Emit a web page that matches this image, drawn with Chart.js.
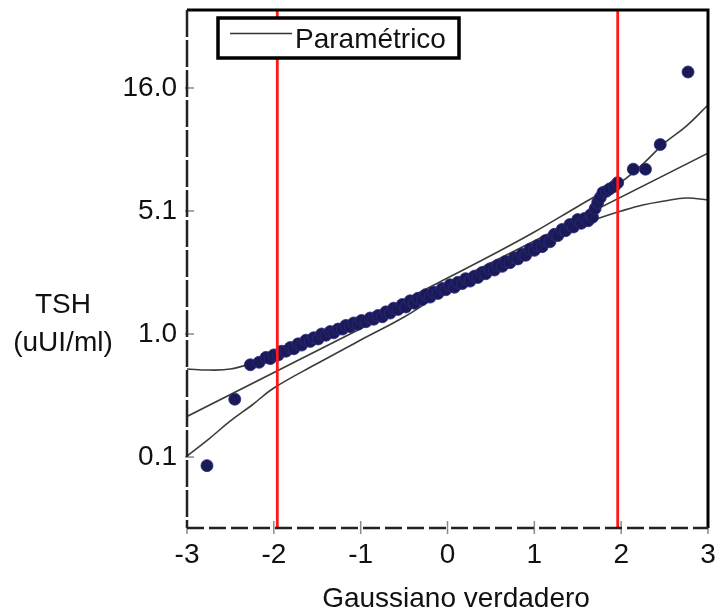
<!DOCTYPE html>
<html>
<head>
<meta charset="utf-8">
<title>TSH - gráfico Q-Q</title>
<script src="https://cdn.jsdelivr.net/npm/chart.js@4.4.1/dist/chart.umd.min.js"></script>
<style>
    html, body { margin: 0; padding: 0; background: #fff; }
</style>
</head>
<body>
<canvas id="qqChart" width="715" height="614"></canvas>
<script>
// Observed TSH quantiles against the theoretical normal quantiles
const zScores = [-2.77, -2.45, -2.27, -2.17, -2.09, -2.04, -2.00, -1.95, -1.91, -1.86,
                 -1.81, -1.77, -1.72, -1.68, -1.63, -1.58, -1.54, -1.49, -1.45, -1.40,
                 -1.35, -1.31, -1.26, -1.21, -1.17, -1.12, -1.08, -1.03, -0.99, -0.94,
                 -0.89, -0.85, -0.80, -0.75, -0.71, -0.66, -0.62, -0.57, -0.52, -0.48,
                 -0.43, -0.38, -0.34, -0.29, -0.25, -0.20, -0.16, -0.11, -0.06, -0.02,
                 0.03, 0.08, 0.12, 0.17, 0.21, 0.26, 0.31, 0.35, 0.40, 0.44,
                 0.49, 0.54, 0.58, 0.63, 0.67, 0.72, 0.77, 0.81, 0.86, 0.90,
                 0.95, 1.00, 1.04, 1.09, 1.13, 1.18, 1.23, 1.27, 1.32, 1.36,
                 1.41, 1.45, 1.50, 1.54, 1.58, 1.62, 1.65, 1.67, 1.70, 1.73,
                 1.76, 1.79, 1.83, 1.87, 1.92, 1.96, 2.14, 2.28, 2.45, 2.77];
const tshPos = [-0.07, 0.47, 0.75, 0.77, 0.81, 0.80, 0.83, 0.83, 0.86, 0.86,
                0.89, 0.88, 0.92, 0.91, 0.95, 0.94, 0.97, 0.96, 1.00, 0.99,
                1.02, 1.01, 1.04, 1.04, 1.07, 1.06, 1.09, 1.08, 1.11, 1.10,
                1.13, 1.12, 1.15, 1.14, 1.18, 1.17, 1.21, 1.20, 1.24, 1.22,
                1.27, 1.25, 1.29, 1.28, 1.32, 1.30, 1.34, 1.33, 1.37, 1.36,
                1.40, 1.38, 1.42, 1.41, 1.45, 1.43, 1.47, 1.46, 1.50, 1.49,
                1.53, 1.52, 1.56, 1.55, 1.59, 1.58, 1.62, 1.61, 1.65, 1.64,
                1.69, 1.68, 1.72, 1.71, 1.76, 1.75, 1.81, 1.80, 1.85, 1.84,
                1.89, 1.87, 1.93, 1.90, 1.94, 1.92, 1.97, 1.95, 2.02, 2.07,
                2.11, 2.15, 2.16, 2.18, 2.20, 2.23, 2.34, 2.34, 2.54, 3.13];

// TSH axis: evenly spaced positions carrying the uUI/ml labels
const yTickPos = [0, 1, 2, 3];
const yTickLabels = ['0.1', '1.0', '5.1', '16.0'];
const xTicks = [-3, -2, -1, 0, 1, 2, 3];

// Parametric fit and its confidence band
const fitZ = [-3, 3];
const fitY = [0.33, 2.47];
const bandZ = [-3, -2.75, -2.5, -2.25, -2, -1.5, -1, -0.5, 0, 0.5, 1, 1.5, 1.75, 2, 2.25, 2.5, 2.75, 3];
const bandUpper = [0.715, 0.707, 0.715, 0.764, 0.829, 0.951, 1.106, 1.276, 1.455, 1.638, 1.829, 2.037, 2.138, 2.236, 2.382, 2.553, 2.69, 2.862];
const bandLower = [0.008, 0.146, 0.293, 0.423, 0.561, 0.76, 0.951, 1.138, 1.358, 1.537, 1.699, 1.878, 1.943, 2.0, 2.049, 2.081, 2.106, 2.089];

// Reference limits (+/- 1.96)
const cutoffs = [-1.96, 1.96];

const Y_MIN = -0.577;
const Y_MAX = 3.634;
const FONT = '"Liberation Sans", Arial, Helvetica, sans-serif';

function toPoints(xs, ys) {
    return xs.map((x, i) => ({ x: x, y: ys[i] }));
}

function bandLine(data) {
    return {
        data: data,
        showLine: true,
        borderColor: '#3c3c3c',
        borderWidth: 1.6,
        pointRadius: 0,
        tension: 0.4,
        order: 2
    };
}

const datasets = [];

// Red cut-off lines, drawn on top of everything else
cutoffs.forEach(c => {
    datasets.push({
        data: [{ x: c, y: Y_MIN }, { x: c, y: Y_MAX }],
        showLine: true,
        borderColor: '#ff1a1a',
        borderWidth: 2.8,
        pointRadius: 0,
        order: 0
    });
});

datasets.push({
    data: toPoints(zScores, tshPos),
    pointRadius: 6,
    pointBackgroundColor: '#1a1a58',
    pointBorderColor: '#2a2a78',
    pointBorderWidth: 0.8,
    order: 1
});

datasets.push(bandLine(toPoints(fitZ, fitY)));
datasets.push(bandLine(toPoints(bandZ, bandUpper)));
datasets.push(bandLine(toPoints(bandZ, bandLower)));

/**
 * Frame, tick marks, axis titles and legend box
 */
const decorations = {
    id: 'decorations',
    afterDraw(chart) {
        const ctx = chart.ctx;
        const area = chart.chartArea;
        const xs = chart.scales.x;
        const ys = chart.scales.y;

        ctx.save();

        // tick marks crossing the axes
        ctx.strokeStyle = '#8a8a8a';
        ctx.lineWidth = 1.5;
        xs.ticks.forEach(t => {
            const px = xs.getPixelForValue(t.value);
            ctx.beginPath();
            ctx.moveTo(px, area.bottom - 7);
            ctx.lineTo(px, area.bottom + 6);
            ctx.stroke();
        });
        ys.ticks.forEach(t => {
            const py = ys.getPixelForValue(t.value);
            ctx.beginPath();
            ctx.moveTo(area.left - 2, py);
            ctx.lineTo(area.left + 7, py);
            ctx.stroke();
        });

        // solid top and right borders
        ctx.strokeStyle = '#000';
        ctx.lineWidth = 3;
        ctx.beginPath();
        ctx.moveTo(area.left, area.top);
        ctx.lineTo(area.right, area.top);
        ctx.lineTo(area.right, area.bottom);
        ctx.stroke();

        // dashed left and bottom axes
        ctx.strokeStyle = '#222';
        ctx.lineWidth = 2.5;
        ctx.setLineDash([27, 3]);
        ctx.beginPath();
        ctx.moveTo(area.left, area.top);
        ctx.lineTo(area.left, area.bottom);
        ctx.stroke();
        ctx.setLineDash([17, 5]);
        ctx.beginPath();
        ctx.moveTo(area.left, area.bottom);
        ctx.lineTo(area.right, area.bottom);
        ctx.stroke();
        ctx.setLineDash([]);

        // axis titles
        ctx.fillStyle = '#111';
        ctx.font = '28px ' + FONT;
        ctx.textAlign = 'center';
        ctx.textBaseline = 'middle';
        ctx.fillText('TSH', 63, 305);
        ctx.fillText('(uUI/ml)', 63, 343);
        ctx.textBaseline = 'alphabetic';
        ctx.fillText('Gaussiano verdadero', 456, 607);

        // legend box
        ctx.fillStyle = '#fff';
        ctx.fillRect(218, 18, 241, 40);
        ctx.strokeStyle = '#000';
        ctx.lineWidth = 3.5;
        ctx.strokeRect(218, 18, 241, 40);
        ctx.strokeStyle = '#333';
        ctx.lineWidth = 1.6;
        ctx.beginPath();
        ctx.moveTo(230, 33.5);
        ctx.lineTo(292, 33.5);
        ctx.stroke();
        ctx.fillStyle = '#111';
        ctx.textAlign = 'left';
        ctx.fillText('Paramétrico', 295, 48);

        ctx.restore();
    }
};

new Chart(document.getElementById('qqChart'), {
    type: 'scatter',
    data: { datasets: datasets },
    options: {
        responsive: false,
        animation: false,
        devicePixelRatio: 1,
        layout: { padding: { top: 10, right: 7, bottom: 0, left: 0 } },
        plugins: {
            legend: { display: false },
            tooltip: { enabled: false }
        },
        scales: {
            x: {
                type: 'linear',
                min: -3,
                max: 3,
                grid: { display: false, tickLength: 0 },
                border: { display: false },
                afterBuildTicks: scale => {
                    scale.ticks = xTicks.map(v => ({ value: v }));
                },
                afterFit: scale => {
                    scale.height = 86;
                    scale.paddingLeft = 0;
                    scale.paddingRight = 0;
                },
                ticks: {
                    color: '#111',
                    padding: 10,
                    maxRotation: 0,
                    font: { family: FONT, size: 28 }
                }
            },
            y: {
                type: 'linear',
                min: Y_MIN,
                max: Y_MAX,
                grid: { display: false, tickLength: 0 },
                border: { display: false },
                afterBuildTicks: scale => {
                    scale.ticks = yTickPos.map(v => ({ value: v }));
                },
                afterFit: scale => {
                    scale.width = 187;
                    scale.paddingTop = 0;
                    scale.paddingBottom = 0;
                },
                ticks: {
                    color: '#111',
                    padding: 10,
                    font: { family: FONT, size: 28 },
                    callback: (value, index) => yTickLabels[index]
                }
            }
        }
    },
    plugins: [decorations]
});
</script>
</body>
</html>
